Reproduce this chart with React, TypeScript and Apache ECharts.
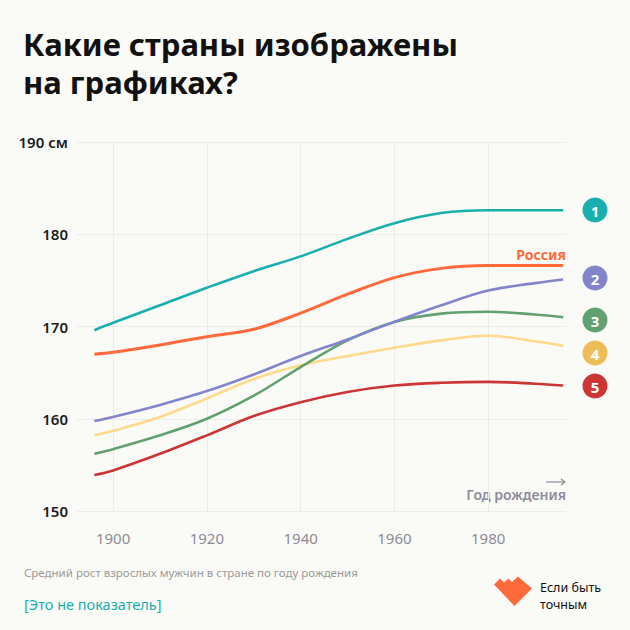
import React, { useEffect, useRef } from "react";
import * as echarts from "echarts";

const years = [1896, 1900, 1910, 1920, 1930, 1940, 1950, 1960, 1970, 1980, 1990, 1996];
const country1 = [169.6, 170.4, 172.3, 174.2, 176.0, 177.6, 179.5, 181.2, 182.3, 182.6, 182.6, 182.6];
const russia = [167.0, 167.2, 168.0, 168.9, 169.7, 171.45, 173.5, 175.3, 176.3, 176.6, 176.6, 176.6];
const country2 = [159.75, 160.2, 161.5, 163.0, 164.8, 166.8, 168.6, 170.5, 172.3, 173.9, 174.7, 175.1];
const country3 = [156.2, 156.7, 158.2, 160.0, 162.5, 165.6, 168.5, 170.5, 171.4, 171.6, 171.3, 171.0];
const country4 = [158.2, 158.7, 160.2, 162.2, 164.3, 165.8, 166.8, 167.7, 168.5, 169.0, 168.4, 167.9];
const country5 = [153.9, 154.4, 156.2, 158.2, 160.3, 161.8, 162.9, 163.6, 163.9, 164.0, 163.8, 163.6];
const xTicks = [1900, 1920, 1940, 1960, 1980];
const badgeLabels = ["1", "2", "3", "4", "5"];

const FONT = "'Noto Sans', sans-serif";

export default function App() {
  const ref = useRef<HTMLDivElement>(null);
  useEffect(() => {
    document.body.style.margin = "0";
    const chart = echarts.init(ref.current!, null, { renderer: "svg" });
    const mk = (name: string, vals: number[], color: string, width = 2.6) => ({
      name,
      type: "line",
      data: years.map((y, i) => [y, vals[i]]),
      smooth: 0.35,
      showSymbol: false,
      symbol: "none",
      lineStyle: { color, width },
      itemStyle: { color },
    });
    const badges = [
      { y: 210, color: "#1aafaf" },
      { y: 278, color: "#8385cb" },
      { y: 320, color: "#62a070" },
      { y: 353, color: "#edbd58" },
      { y: 386, color: "#cc3535" },
    ];
    const graphics: any[] = [
      {
        type: "text",
        left: 23,
        top: 25,
        style: {
          text: "Какие страны изображены\nна графиках?",
          font: `700 31px ${FONT}`,
          lineHeight: 38,
          fill: "#111111",
        },
      },
      {
        type: "text",
        x: 566,
        y: 254,
        style: {
          text: "Россия",
          font: `700 14px ${FONT}`,
          fill: "#ff6a3d",
          align: "right",
          verticalAlign: "middle",
        },
      },
      {
        type: "text",
        x: 566,
        y: 494,
        style: {
          text: "Год рождения",
          font: `600 14px ${FONT}`,
          fill: "#8c8c99",
          align: "right",
          verticalAlign: "middle",
        },
      },
      { type: "line", shape: { x1: 546, y1: 482, x2: 565, y2: 482 }, style: { stroke: "#8c8c99", lineWidth: 1.2 } },
      { type: "polyline", shape: { points: [[561, 479], [565, 482], [561, 485]] }, style: { stroke: "#8c8c99", lineWidth: 1.2, fill: "none" } },
      {
        type: "text",
        x: 24,
        y: 572,
        style: {
          text: "Средний рост взрослых мужчин в стране по году рождения",
          font: `400 11.5px ${FONT}`,
          fill: "#9a9a9a",
          verticalAlign: "middle",
        },
      },
      {
        type: "text",
        x: 24,
        y: 604,
        style: {
          text: "[Это не показатель]",
          font: `400 14.5px ${FONT}`,
          fill: "#1aafaf",
          verticalAlign: "middle",
        },
      },
      {
        type: "polygon",
        shape: {
          points: [
            [494, 584.5],
            [500, 578.5],
            [504, 582.5],
            [508.5, 578.5],
            [512, 582],
            [518, 576.5],
            [532, 588.5],
            [514.5, 606],
          ],
        },
        style: { fill: "#ff6a3d" },
      },
      {
        type: "text",
        x: 540,
        y: 587.5,
        style: {
          text: "Если быть",
          font: `400 12.5px ${FONT}`,
          fill: "#111111",
          verticalAlign: "middle",
        },
      },
      {
        type: "text",
        x: 540,
        y: 604,
        style: {
          text: "точным",
          font: `400 12.5px ${FONT}`,
          fill: "#111111",
          verticalAlign: "middle",
        },
      },
    ];
    badges.forEach((b, i) => {
      graphics.push({ type: "circle", shape: { cx: 595, cy: b.y, r: 12.5 }, style: { fill: b.color } });
      graphics.push({
        type: "text",
        x: 595,
        y: b.y + 1,
        style: {
          text: badgeLabels[i],
          font: `700 15px ${FONT}`,
          fill: "#ffffff",
          align: "center",
          verticalAlign: "middle",
        },
      });
    });

    chart.setOption({
      animation: false,
      backgroundColor: "#fafaf6",
      textStyle: { fontFamily: FONT },
      grid: { left: 77, right: 64, top: 142, bottom: 119, containLabel: false },
      xAxis: {
        type: "value",
        min: 1892.3,
        max: 1996.6,
        axisLine: { show: false },
        axisTick: { show: false, customValues: xTicks },
        axisLabel: {
          customValues: xTicks,
          color: "#8c8c99",
          fontSize: 15,
          margin: 19,
          fontFamily: FONT,
          formatter: (v: number) => String(v),
        },
        splitLine: { show: true, lineStyle: { color: "#ececea", width: 1 } },
      },
      yAxis: {
        type: "value",
        min: 150,
        max: 190,
        interval: 10,
        axisLine: { show: false },
        axisTick: { show: false },
        axisLabel: {
          color: "#1c1c1c",
          fontSize: 15,
          fontWeight: 600,
          margin: 9,
          fontFamily: FONT,
          formatter: (v: number) => (v === 190 ? "190 см" : String(v)),
        },
        splitLine: { show: true, lineStyle: { color: "#ececea", width: 1 } },
      },
      series: [
        mk("4", country4, "#ffd98c"),
        mk("5", country5, "#cc3535"),
        mk("3", country3, "#62a070"),
        mk("2", country2, "#8385cb"),
        mk("Россия", russia, "#ff6a3d", 3),
        mk("1", country1, "#1aafaf"),
      ],
      graphic: graphics,
    });
    return () => chart.dispose();
  }, []);
  return <div ref={ref} style={{ width: 630, height: 630 }} />;
}
